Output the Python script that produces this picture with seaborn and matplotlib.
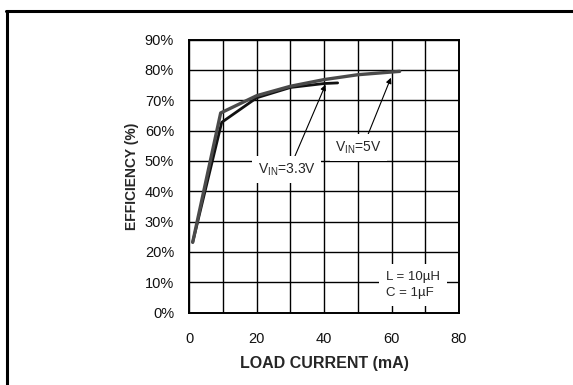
import matplotlib
matplotlib.use("Agg")
import matplotlib.pyplot as plt
from matplotlib.lines import Line2D
import seaborn as sns
import pandas as pd

# Efficiency vs. load current for two input voltages
load_5v = [1, 9.3, 20, 30, 40, 50, 62.4]
eff_5v = [23.2, 65.8, 71.5, 74.6, 76.8, 78.4, 79.5]
load_33v = [1, 9.6, 20, 30, 40, 44]
eff_33v = [23.2, 62.7, 70.8, 74.2, 75.5, 75.7]

x_ticks = [0, 20, 40, 60, 80]
y_ticks = [0, 10, 20, 30, 40, 50, 60, 70, 80, 90]
y_tick_labels = [f"{v}%" for v in y_ticks]

sns.set_style("white")
plt.rcParams["font.family"] = ["Liberation Sans", "DejaVu Sans"]
plt.rcParams["mathtext.fontset"] = "custom"
plt.rcParams["mathtext.rm"] = "Liberation Sans"

df5 = pd.DataFrame({"load": load_5v, "eff": eff_5v})
df33 = pd.DataFrame({"load": load_33v, "eff": eff_33v})

fig = plt.figure(figsize=(5.73, 3.85), dpi=100)
ax = fig.add_axes([0.3304, 0.1878, 0.4707, 0.7096])

sns.lineplot(data=df33, x="load", y="eff", ax=ax, color="#111111",
             lw=2.0, sort=False, zorder=3)
sns.lineplot(data=df5, x="load", y="eff", ax=ax, color="#4a4a4a",
             lw=2.4, sort=False, zorder=4)

ax.set_xlim(0, 80)
ax.set_ylim(0, 90)
ax.set_xticks(range(0, 81, 10), minor=True)
ax.set_xticks(x_ticks)
ax.set_yticks(y_ticks)
ax.set_yticklabels(y_tick_labels)
ax.grid(True, which="both", color="black", lw=1.0)
ax.set_axisbelow(True)
ax.tick_params(axis="both", which="both", length=0, labelsize=10.5,
               colors="#111111")
ax.tick_params(axis="x", pad=14)
ax.tick_params(axis="y", pad=11)
for s in ax.spines.values():
    s.set_linewidth(1.4)
    s.set_color("black")

ax.set_xlabel("LOAD CURRENT (mA)", fontsize=11.5, fontweight="bold",
              labelpad=7)
ax.set_ylabel("EFFICIENCY (%)", fontsize=10, fontweight="bold", labelpad=4)

box = dict(facecolor="white", edgecolor="none", pad=4)
arrow = dict(arrowstyle="-|>", color="black", lw=0.8, mutation_scale=8,
             shrinkA=0, shrinkB=0)

ax.annotate("", xy=(40.4, 75.1), xytext=(31.1, 51.0), arrowprops=arrow,
            zorder=5)
ax.annotate("", xy=(59.8, 77.4), xytext=(52.6, 57.6), arrowprops=arrow,
            zorder=5)

ax.text(28.9, 47.1, r"V$_{\mathregular{IN}}$=3.3V", fontsize=10,
        ha="center", va="center", bbox=box, zorder=6)
ax.text(50.2, 54.4, r"V$_{\mathregular{IN}}$=5V", fontsize=10,
        ha="center", va="center", bbox=box, zorder=6)
ax.text(58.3, 9.1, "L = 10µH\nC = 1µF", fontsize=9.5, ha="left",
        va="center", linespacing=1.45,
        bbox=dict(facecolor="white", edgecolor="none", pad=5), zorder=6)

# open outer frame along the top and left edges
fig.add_artist(Line2D([6 / 573, 1.0], [1 - 10.5 / 385] * 2,
                      transform=fig.transFigure, color="black", lw=2.2))
fig.add_artist(Line2D([7 / 573] * 2, [0.0, 1 - 10.5 / 385],
                      transform=fig.transFigure, color="black", lw=2.2))

fig.savefig("out.png", dpi=100)
